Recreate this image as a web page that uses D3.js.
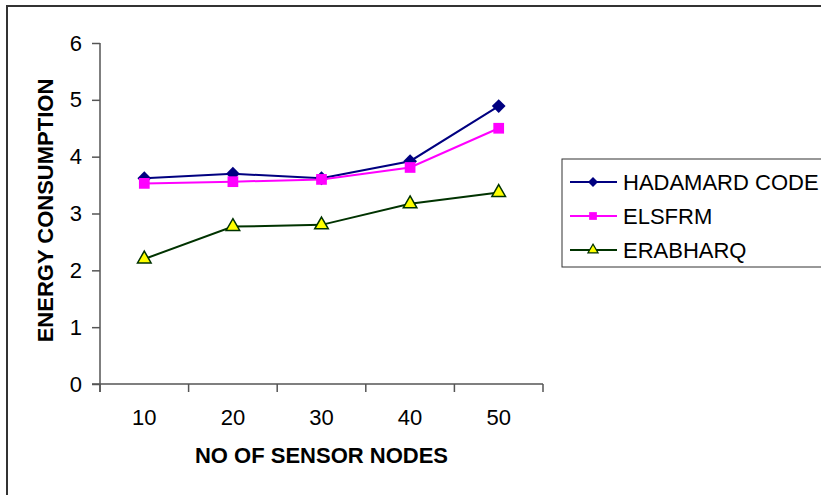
<!DOCTYPE html>
<html>
<head>
<meta charset="utf-8">
<script src="https://cdn.jsdelivr.net/npm/d3@7"></script>
<style>
  body { margin: 0; background: #fff; }
  text { font-family: Arial, "Liberation Sans", sans-serif; fill: #000; }
</style>
</head>
<body>
<div id="svg-container"></div>
<script>
// chart data
var nodeCounts = ["10", "20", "30", "40", "50"];
var hadamardCode = [3.62, 3.70, 3.62, 3.92, 4.89];
var elsfrm = [3.53, 3.56, 3.60, 3.81, 4.50];
var erabharq = [2.20, 2.77, 2.80, 3.17, 3.37];
var yTicks = [0, 1, 2, 3, 4, 5, 6];

var seriesNames = ["HADAMARD CODE", "ELSFRM", "ERABHARQ"];
var seriesValues = [hadamardCode, elsfrm, erabharq];

// series styles
var lineColors = ["#000080", "#ff00ff", "#003300"];
var markerFills = ["#000080", "#ff00ff", "#ffff00"];
var markerTypes = [d3.symbolSquare, d3.symbolSquare, d3.symbolTriangle];
var markerRotate = [45, 0, 0];
var markerSizes = [95, 115, 80];
var legendSizes = [50, 60, 45];

var fontStack = "Arial, 'Liberation Sans', sans-serif";

// svg dimensions
var svgWidth = 821;
var svgHeight = 495;
var plot = { left : 100, right : 543, top : 43, bottom : 384 };

var svg = d3.select("#svg-container").append("svg")
    .attr("width", svgWidth)
    .attr("height", svgHeight);

// outer frame (only top and left edges show)
svg.append("path")
  .attr("d", "M7,495V6H821")
  .attr("fill", "none")
  .attr("stroke", "#333")
  .attr("stroke-width", 2);

// scales
var x = d3.scaleBand()
      .domain(nodeCounts)
      .range([plot.left, plot.right]);

var y = d3.scaleLinear()
      .domain([0, 6])
      .range([plot.bottom, plot.top]);

// x-axis
var xAxis = d3.axisBottom(x)
      .tickSize(0)
      .tickPadding(25);

var gx = svg.append("g")
  .attr("class", "x axis")
  .attr("transform", "translate(0," + plot.bottom + ")")
  .call(xAxis);

gx.select(".domain").remove();
gx.selectAll("text").attr("font-size", 22).attr("font-family", fontStack);

// x-axis line and ticks at band edges
svg.append("line")
  .attr("x1", plot.left - 8).attr("x2", plot.right)
  .attr("y1", plot.bottom).attr("y2", plot.bottom)
  .attr("stroke", "#555").attr("stroke-width", 1.5);

var bandEdges = nodeCounts.map(function(d) { return x(d); }).concat([plot.right]);
svg.selectAll(".xtick")
  .data(bandEdges)
  .enter()
  .append("line")
    .attr("class", "xtick")
    .attr("x1", function(d) { return d; })
    .attr("x2", function(d) { return d; })
    .attr("y1", plot.bottom)
    .attr("y2", plot.bottom + 8)
    .attr("stroke", "#555").attr("stroke-width", 1.5);

// y-axis
var yAxis = d3.axisLeft(y)
      .tickValues(yTicks)
      .tickSize(8)
      .tickPadding(10)
      .tickFormat(d3.format("d"));

var gy = svg.append("g")
  .attr("class", "y axis")
  .attr("transform", "translate(" + plot.left + ",0)")
  .call(yAxis);

gy.select(".domain")
  .attr("d", "M0," + plot.top + "V" + (plot.bottom + 8))
  .attr("stroke", "#555").attr("stroke-width", 1.5);
gy.selectAll(".tick line").attr("stroke", "#555").attr("stroke-width", 1.5);
gy.selectAll("text").attr("font-size", 22).attr("font-family", fontStack);

// axis titles
svg.append("text")
  .attr("x", (plot.left + plot.right) / 2)
  .attr("y", 463)
  .attr("text-anchor", "middle")
  .attr("font-size", 22)
  .attr("font-weight", "bold")
  .text("NO OF SENSOR NODES");

svg.append("text")
  .attr("transform", "translate(53," + ((plot.top + plot.bottom) / 2 - 3) + ") rotate(-90)")
  .attr("text-anchor", "middle")
  .attr("font-size", 22)
  .attr("font-weight", "bold")
  .text("ENERGY CONSUMPTION");

// lines and markers
var line = d3.line()
      .x(function(d, i) { return x(nodeCounts[i]) + x.bandwidth() / 2; })
      .y(function(d) { return y(d); });

seriesValues.forEach(function(values, s) {
  svg.append("path")
    .datum(values)
    .attr("fill", "none")
    .attr("stroke", lineColors[s])
    .attr("stroke-width", 2)
    .attr("d", line);

  svg.selectAll(".m" + s)
    .data(values)
    .enter()
    .append("path")
      .attr("class", "m" + s)
      .attr("transform", function(d, i) {
        return "translate(" + (x(nodeCounts[i]) + x.bandwidth() / 2) + "," + y(d) + ") rotate(" + markerRotate[s] + ")";
      })
      .attr("d", d3.symbol().type(markerTypes[s]).size(markerSizes[s]))
      .attr("fill", markerFills[s])
      .attr("stroke", s === 2 ? "#003300" : "none")
      .attr("stroke-width", 1.5);
});

// legend
var legend = svg.append("g").attr("class", "legend");

legend.append("rect")
  .attr("x", 562).attr("y", 159)
  .attr("width", 270).attr("height", 108)
  .attr("fill", "#fff")
  .attr("stroke", "#333")
  .attr("stroke-width", 1);

var legendRows = [182, 216, 250];

seriesNames.forEach(function(name, s) {
  var ly = legendRows[s];
  legend.append("line")
    .attr("x1", 570).attr("x2", 617)
    .attr("y1", ly).attr("y2", ly)
    .attr("stroke", lineColors[s])
    .attr("stroke-width", 2);

  legend.append("path")
    .attr("transform", "translate(593," + ly + ") rotate(" + markerRotate[s] + ")")
    .attr("d", d3.symbol().type(markerTypes[s]).size(legendSizes[s]))
    .attr("fill", markerFills[s])
    .attr("stroke", s === 2 ? "#003300" : "none")
    .attr("stroke-width", 1.2);

  legend.append("text")
    .attr("x", 623)
    .attr("y", ly)
    .attr("dy", "0.36em")
    .attr("font-size", 22)
    .text(name);
});
</script>
</body>
</html>
